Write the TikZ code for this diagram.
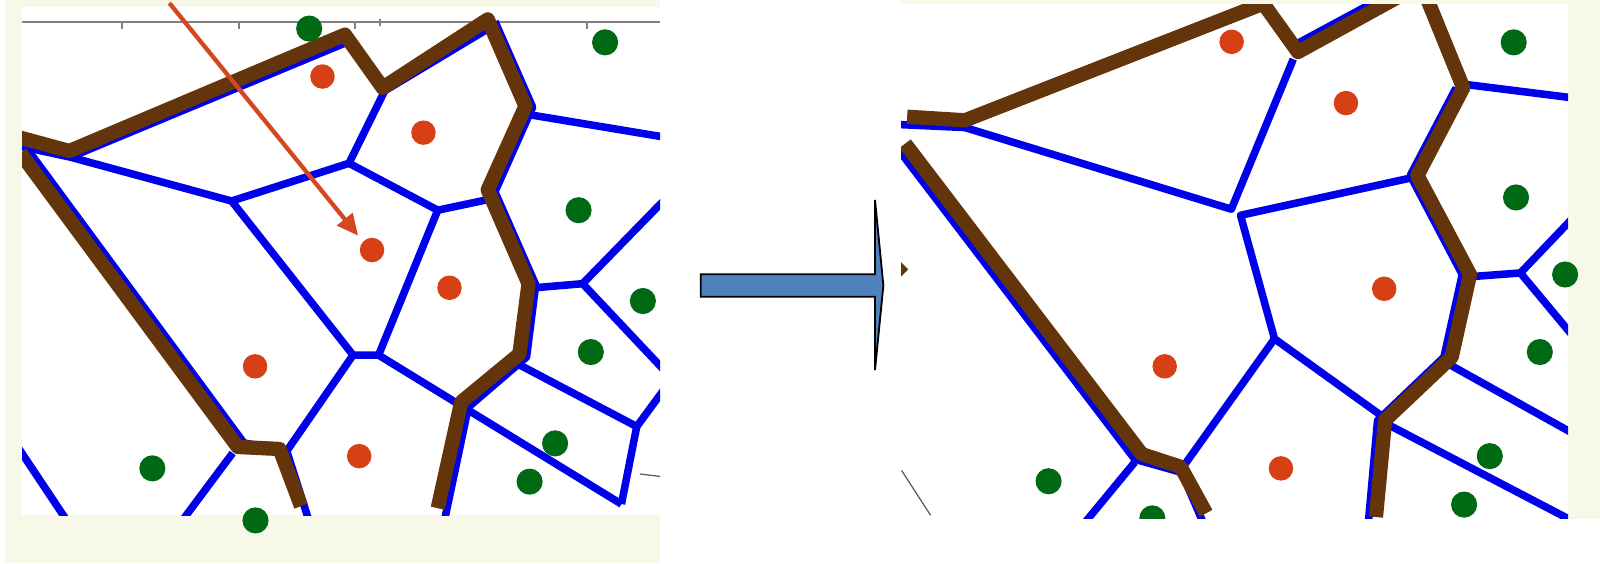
\documentclass[tikz,border=0pt]{standalone}
\usetikzlibrary{arrows.meta}
\definecolor{cream}{RGB}{248,248,232}
\definecolor{vblue}{RGB}{0,0,235}
\definecolor{brn}{RGB}{100,52,10}
\definecolor{rdot}{RGB}{214,64,20}
\definecolor{gdot}{RGB}{0,105,20}
\definecolor{arrred}{RGB}{212,72,32}
\definecolor{arrblue}{RGB}{79,129,189}
\begin{document}
\begin{tikzpicture}[x=0.5pt,y=-0.5pt,
  vor/.style={vblue,line width=3.7pt,line join=round},
  bnd/.style={brn,line width=7pt,line join=round},
  rd/.style={circle,fill=rdot,minimum size=12pt,inner sep=0pt},
  gd/.style={circle,fill=gdot,minimum size=12.8pt,inner sep=0pt},
  axisline/.style={gray,line width=0.9pt},
  thin gray/.style={gray!70!black,line width=0.6pt}]
\useasboundingbox (0,0) rectangle (1568,552);
\fill[white] (0,0) rectangle (1568,552);
% panels
\fill[cream] (4.9,0) rectangle (646.8,552);
\fill[white] (21.6,6.9) rectangle (646.8,504.7);
\fill[cream] (883,0) rectangle (1568,508.6);
\fill[white] (883,4) rectangle (1536.7,508.6);

% ---------------- LEFT PANEL ----------------
% axis
\coordinate (axL) at (21.6,21.5);
\coordinate (axR) at (646.8,21.5);
\draw[axisline] (axL) -- (axR);
\foreach \t in {119.6,233.9,347.7,575.6} \draw[axisline] (\t,21.5) -- (\t,28);
\draw[axisline] (372.4,18.5) -- (372.4,25);

% vertices
\coordinate (B1) at (69,154);
\coordinate (B2) at (227,197);
\coordinate (B3) at (342,160);
\coordinate (B4) at (377,89);
\coordinate (B5) at (429,206);
\coordinate (B6) at (481,195);
\coordinate (B7) at (346,348);
\coordinate (B8) at (371,348);
\coordinate (B9) at (524,282);
\coordinate (B10) at (571,278);
\coordinate (B11) at (508,357);
\coordinate (B12) at (624,418);
\coordinate (B13) at (281,442);
\coordinate (B14) at (228,444);
\coordinate (E1) at (652,195);
\coordinate (E2) at (652,364);
\coordinate (E3) at (652,380);
\coordinate (E4) at (609,494);
\coordinate (E5a) at (520,112.6);
\coordinate (E5b) at (652,134.5);
\coordinate (E6) at (178,511);
\coordinate (E7a) at (18,439);
\coordinate (E7b) at (66,511);

\coordinate (L1) at (20,135);
\coordinate (L2) at (68,148);
\coordinate (L3) at (338,34);
\coordinate (L4) at (375,86);
\coordinate (L5) at (478,19);
\coordinate (L6) at (515,104);
\coordinate (L7) at (478,186);
\coordinate (L8) at (518,278);
\coordinate (L9) at (509,347);
\coordinate (L10) at (452,394);
\coordinate (L11) at (429,498);
\coordinate (M1) at (20,150);
\coordinate (M2) at (233,438);
\coordinate (M3) at (274,440);
\coordinate (M4) at (295,496);

\begin{scope}
\clip (21.6,6.9) rectangle (646.8,504.7);
% blue edges lying under the boundary
\draw[vor] (18,143) -- (B1) -- (341,41);
\draw[vor] (B4) -- (482,26);
\draw[vor] (485,21) -- (522,105) -- (485,188) -- (525,279) -- (516,350) -- (459,399) -- (436,508);
\draw[vor] (26,145) -- (239,434) -- (B13) -- (302,508);
% blue network
\draw[vor] (B1) -- (B2) -- (B3) -- (B4);
\draw[vor] (B3) -- (B5) -- (B6);
\draw[vor] (B2) -- (B7) -- (B8) -- (B5);
\draw[vor] (B7) -- (B13);
\draw[vor] (B14) -- (E6);
\draw[vor] (B8) -- (E4);
\draw[vor] (B9) -- (B10) -- (E1);
\draw[vor] (B10) -- (E2);
\draw[vor] (B11) -- (B12) -- (E3);
\draw[vor] (B12) -- (E4);
\draw[vor] (E5a) -- (E5b);
\draw[vor] (E7a) -- (E7b);
\draw[thin gray] (627,464.5) -- (648,467);
% boundary
\draw[bnd] (L1) -- (L2) -- (L3) -- (L4) -- (L5) -- (L6) -- (L7) -- (L8) -- (L9) -- (L10) -- (L11);
\draw[bnd] (M1) -- (M2) -- (M3) -- (M4);
\end{scope}

% red arrow
\coordinate (RAs) at (166,3);
\coordinate (RAe) at (351,231);
\draw[arrred,line width=2.1pt,-{Triangle[length=10.5pt,width=9.5pt]}] (RAs) -- (RAe);

% dots left
\node[rd] (r1) at (316,75) {};
\node[rd] (r2) at (415,130) {};
\node[rd] (r3) at (364.6,245) {};
\node[rd] (r4) at (440.5,282) {};
\node[rd] (r5) at (250,359) {};
\node[rd] (r6) at (352,447) {};
\node[gd] (g1) at (303,28) {};
\node[gd] (g2) at (593,41.5) {};
\node[gd] (g3) at (567,206) {};
\node[gd] (g4) at (630,295) {};
\node[gd] (g5) at (579,345) {};
\node[gd] (g6) at (544,434.5) {};
\node[gd] (g7) at (519,472) {};
\node[gd] (g8) at (149.3,459) {};
\node[gd] (g9) at (250.4,510) {};

% ---------------- BIG ARROW ----------------
\coordinate (A1) at (686.7,268.8);
\coordinate (A2) at (857.5,268.8);
\coordinate (A3) at (857.5,196);
\coordinate (A4) at (865.7,279.8);
\coordinate (A5) at (857.5,362.6);
\coordinate (A6) at (857.5,290.8);
\coordinate (A7) at (686.7,290.8);
\draw[fill=arrblue,draw=black,line width=0.9pt,line join=miter]
  (A1) -- (A2) -- (A3) -- (A4) -- (A5) -- (A6) -- (A7) -- cycle;

% ---------------- RIGHT PANEL ----------------
\coordinate (C1) at (945.7,125);
\coordinate (C2) at (1206.7,205);
\coordinate (C3) at (1215.7,211);
\coordinate (C4) at (1267.4,58);
\coordinate (C5) at (1384.4,174);
\coordinate (C6) at (1249,332);
\coordinate (C7) at (1357.4,410);
\coordinate (C8) at (1159.4,457.5);
\coordinate (C9) at (1112,453);
\coordinate (C10) at (1436,82.7);
\coordinate (C11) at (1443,271);
\coordinate (C12) at (1490,267.5);
\coordinate (C13) at (1420,357);
\coordinate (C14) at (1362,417);
\coordinate (D1) at (1060,516);
\coordinate (D2) at (1542,96);
\coordinate (D3) at (1542,213);
\coordinate (D4) at (1542,330);
\coordinate (D5) at (1542,425);
\coordinate (D6) at (1542,511);

\coordinate (R1) at (889,114.4);
\coordinate (R2) at (945.7,117.9);
\coordinate (R3) at (1238,3.5);
\coordinate (R4) at (1272,51);
\coordinate (R5) at (1372,-4);
\coordinate (S1) at (1399,0);
\coordinate (S2) at (1434,86);
\coordinate (S3) at (1389,172);
\coordinate (S4) at (1440.6,269);
\coordinate (S5) at (1422.6,350);
\coordinate (S6) at (1357.4,411.7);
\coordinate (S7) at (1348.4,506.7);
\coordinate (T1) at (887,140.8);
\coordinate (T2) at (1118.9,445);
\coordinate (T3) at (1157,457.5);
\coordinate (T4) at (1182,503);

\begin{scope}
\clip (883,4) rectangle (1536.7,508.6);
\draw[thin gray] (883.5,461) -- (912,505);
% blue under boundary
\draw[vor] (880,122) -- (C1);
\draw[vor] (1267,45) -- (1369,-10);
\draw[vor] (1427,86) -- (1382,172) -- (1433,269) -- (1415,350) -- (1350,412) -- (1341,512);
\draw[vor] (880,146) -- (1112,450) -- (1158,463) -- (1179,512);
% blue network
\draw[vor] (C1) -- (C2) -- (C4);
\draw[vor] (C5) -- (C3) -- (C6) -- (C7);
\draw[vor] (C6) -- (C8);
\draw[vor] (C9) -- (D1);
\draw[vor] (C10) -- (D2);
\draw[vor] (C11) -- (C12) -- (D3);
\draw[vor] (C12) -- (D4);
\draw[vor] (C13) -- (D5);
\draw[vor] (C14) -- (D6);
% boundary
\draw[bnd] (R1) -- (R2) -- (R3) -- (R4) -- (R5);
\draw[bnd] (S1) -- (S2) -- (S3) -- (S4) -- (S5) -- (S6) -- (S7);
\draw[bnd] (T1) -- (T2) -- (T3) -- (T4);
\fill[brn] (883,257) -- (890,264) -- (883,271) -- cycle;
\node[gd] (h8) at (1129.3,508) {};
\end{scope}

% dots right
\node[rd] (s1) at (1207,41) {};
\node[rd] (s2) at (1319,101) {};
\node[rd] (s3) at (1356.5,283) {};
\node[rd] (s4) at (1141.4,359) {};
\node[rd] (s5) at (1255.3,459) {};
\node[gd] (h1) at (1483.4,41.5) {};
\node[gd] (h2) at (1485.7,193.5) {};
\node[gd] (h3) at (1533.8,269) {};
\node[gd] (h4) at (1509,345) {};
\node[gd] (h5) at (1460,447) {};
\node[gd] (h6) at (1434.8,494.5) {};
\node[gd] (h7) at (1027.6,471.6) {};
\end{tikzpicture}
\end{document}
